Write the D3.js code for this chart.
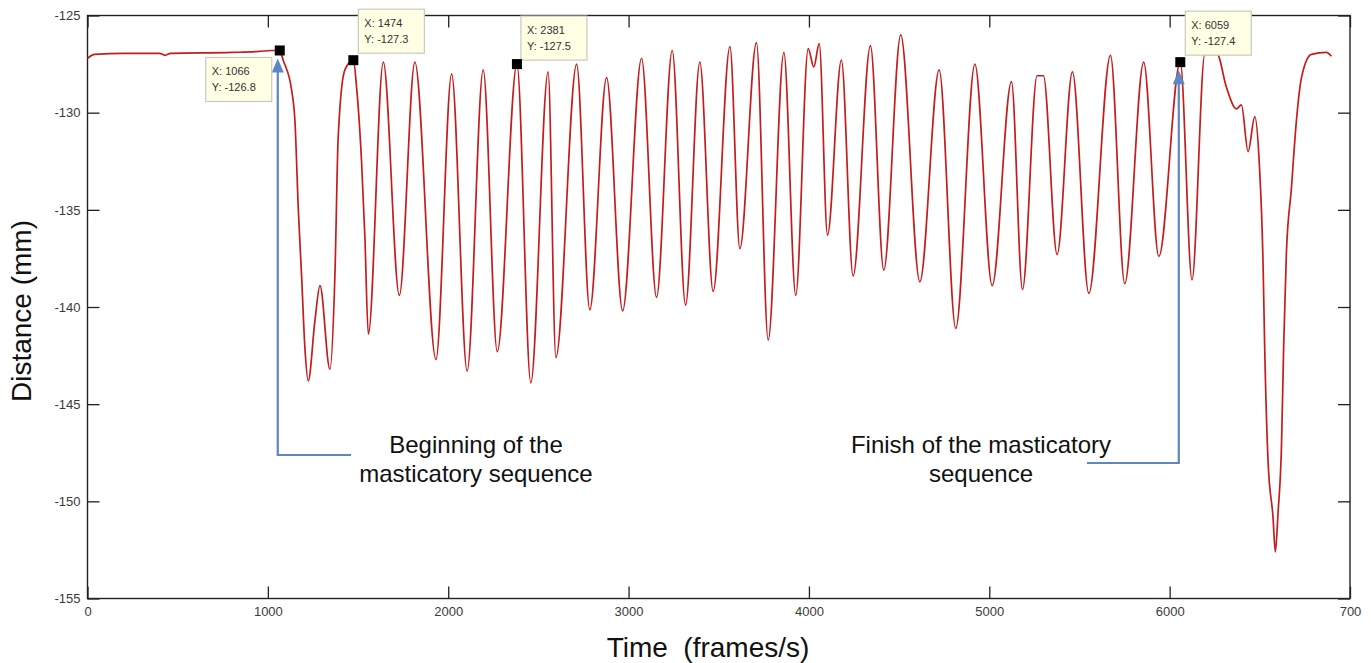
<!DOCTYPE html>
<html>
<head>
<meta charset="utf-8">
<script src="https://cdn.jsdelivr.net/npm/d3@7"></script>
<style>
body { margin: 0; background: #fff; }
text { font-family: "Liberation Sans", Arial, sans-serif; }
</style>
</head>
<body>
<div id="chart"></div>
<script>
// jaw distance trace
const time = [0, 40, 200, 400, 430, 460, 800, 950, 1020, 1066,
  1085, 1132, 1150, 1169, 1187, 1206, 1224, 1261, 1289, 1344,
  1372, 1390, 1427, 1474, 1492, 1520, 1538, 1557,
  1640, 1729, 1815, 1932, 2019, 2105, 2194, 2272, 2381, 2458,
  2554, 2597, 2712, 2785, 2878, 2967, 3072, 3155, 3242, 3316,
  3395, 3469, 3562, 3617, 3709, 3774, 3861, 3927, 3996, 4027,
  4057, 4103, 4180, 4245, 4341, 4415, 4509, 4615, 4722, 4814,
  4920, 5016, 5123, 5184, 5265, 5300, 5376, 5461, 5552, 5672,
  5751, 5856, 5940, 6059, 6124, 6195, 6263, 6315, 6370, 6398,
  6435, 6472, 6497, 6518, 6527, 6546, 6573, 6586, 6601, 6620,
  6632, 6647, 6675, 6703, 6731, 6786, 6869, 6897]
const distance = [-127.2, -127.0, -126.95, -126.95, -127.05, -126.95, -126.9, -126.85, -126.8, -126.8,
  -127.3, -128.85, -130.4, -135.0, -138.4, -142.2, -143.8, -140.7, -138.9, -143.2,
  -138.3, -131.25, -127.8, -127.3, -128.7, -132.6, -136.4, -141.4,
  -127.4, -139.4, -127.4, -142.7, -128.0, -143.3, -127.8, -142.3, -127.5, -143.9,
  -127.9, -142.6, -127.5, -140.15, -128.2, -140.2, -127.2, -139.5, -126.8, -139.9,
  -127.4, -139.2, -126.6, -137.0, -126.4, -141.7, -126.9, -139.4, -126.7, -127.65,
  -126.45, -136.3, -127.3, -138.4, -126.55, -138.1, -126.0, -138.7, -127.8, -141.1,
  -127.5, -138.9, -128.4, -139.1, -128.1, -128.1, -137.3, -127.9, -139.3, -127.05,
  -138.8, -127.4, -137.4, -127.4, -138.6, -127.0, -127.0, -128.7, -129.8, -129.6,
  -132.0, -130.2, -132.6, -137.8, -142.1, -148.0, -150.8, -152.6, -150.6, -147.2,
  -142.1, -137.3, -133.9, -130.4, -128.2, -127.0, -126.9, -127.1]

const xTicks = [0, 1000, 2000, 3000, 4000, 5000, 6000, 7000]
const xTickLabels = ['0', '1000', '2000', '3000', '4000', '5000', '6000', '700']
const yTicks = [-125, -130, -135, -140, -145, -150, -155]

const tipTime = [1066, 1474, 2381, 6059]
const tipDistance = [-126.8, -127.3, -127.5, -127.4]
const tipLabelX = ['1066', '1474', '2381', '6059']
const tipLabelY = ['-126.8', '-127.3', '-127.5', '-127.4']

const noteLines = [['Beginning of the', 'masticatory sequence'], ['Finish of the masticatory', 'sequence']]

var width = 1371
var height = 663

var svg = d3.select('#chart')
  .append('svg')
  .attr('width', width)
  .attr('height', height)

var x = d3.scaleLinear().domain([0, 7000]).range([87.5, 1350])
var y = d3.scaleLinear().domain([-155, -125]).range([598.5, 15.5])

// axes, ticks pointing inwards like matlab
var xAxis = svg.append('g')
  .attr('transform', 'translate(0,' + y(-155) + ')')
  .call(d3.axisBottom(x).tickValues(xTicks)
    .tickFormat((d, i) => xTickLabels[i])
    .tickSizeInner(-12).tickSizeOuter(0).tickPadding(8))
var xTop = svg.append('g')
  .attr('transform', 'translate(0,' + y(-125) + ')')
  .call(d3.axisTop(x).tickValues(xTicks).tickFormat('')
    .tickSizeInner(-12).tickSizeOuter(0))
var yAxis = svg.append('g')
  .attr('transform', 'translate(' + x(0) + ',0)')
  .call(d3.axisLeft(y).tickValues(yTicks).tickFormat(d => String(d))
    .tickSizeInner(-12).tickSizeOuter(0).tickPadding(7))
var yRight = svg.append('g')
  .attr('transform', 'translate(' + x(7000) + ',0)')
  .call(d3.axisRight(y).tickValues(yTicks).tickFormat('')
    .tickSizeInner(-12).tickSizeOuter(0))

svg.selectAll('.domain').remove()
svg.selectAll('.tick line').attr('stroke', '#222').attr('stroke-width', 1.3)
svg.selectAll('.tick text')
  .style('font-size', '13px')
  .style('fill', '#3a3a3a')
  .style('font-family', '"Liberation Sans", Arial, sans-serif')

svg.append('rect')
  .attr('x', x(0))
  .attr('y', y(-125))
  .attr('width', x(7000) - x(0))
  .attr('height', y(-155) - y(-125))
  .attr('fill', 'none')
  .attr('stroke', '#222')
  .attr('stroke-width', 1.4)

// the trace
var pts = time.map((t, i) => [t, distance[i]])
svg.append('path')
  .datum(pts)
  .attr('d', d3.line()
    .x(d => x(d[0]))
    .y(d => y(d[1]))
    .curve(d3.curveMonotoneX))
  .attr('fill', 'none')
  .attr('stroke', '#c41d1d')
  .attr('stroke-width', 1.7)

// blue arrows to the first and last data tips
var blue = '#5b87c4'
var arrowEnds = [{ t: 0, hx: 351, hy: 455, dx: -2 }, { t: 3, hx: 1087, hy: 463, dx: -1.5 }]
arrowEnds.forEach(a => {
  var ax = x(tipTime[a.t]) + a.dx
  var tipY = y(tipDistance[a.t]) + 8
  svg.append('path')
    .attr('d', 'M' + a.hx + ',' + a.hy + 'L' + ax + ',' + a.hy + 'L' + ax + ',' + (tipY + 12))
    .attr('fill', 'none')
    .attr('stroke', blue)
    .attr('stroke-width', 2.2)
  svg.append('path')
    .attr('d', 'M' + ax + ',' + tipY + 'L' + (ax - 6) + ',' + (tipY + 14) + 'L' + (ax + 6) + ',' + (tipY + 14) + 'Z')
    .attr('fill', blue)
})

// data tip boxes
var boxOffset = [[-74, 7], [5, -51], [4, -48], [5, -51]]
tipTime.forEach((t, i) => {
  var px = x(t)
  var py = y(tipDistance[i])
  var bx = px + boxOffset[i][0]
  var by = py + boxOffset[i][1]
  svg.append('rect')
    .attr('x', bx).attr('y', by)
    .attr('width', 66).attr('height', 44)
    .attr('fill', '#ffffe3')
    .attr('stroke', '#c9c9c0')
    .attr('stroke-width', 1.2)
  svg.append('text')
    .attr('x', bx + 6).attr('y', by + 18)
    .style('font-size', '11px').style('fill', '#333')
    .text('X: ' + tipLabelX[i])
  svg.append('text')
    .attr('x', bx + 6).attr('y', by + 34)
    .style('font-size', '11px').style('fill', '#333')
    .text('Y: ' + tipLabelY[i])
  svg.append('rect')
    .attr('x', px - 5).attr('y', py - 5)
    .attr('width', 10).attr('height', 10)
    .attr('fill', '#000')
})

// annotation text
var noteX = [476, 981]
noteLines.forEach((lines, i) => {
  lines.forEach((s, j) => {
    svg.append('text')
      .attr('x', noteX[i])
      .attr('y', 453 + j * 29)
      .attr('text-anchor', 'middle')
      .style('font-size', '24px')
      .style('fill', '#111')
      .text(s)
  })
})

// axis titles
svg.append('text')
  .attr('x', 708)
  .attr('y', 657)
  .attr('text-anchor', 'middle')
  .style('font-size', '28px')
  .style('fill', '#111')
  .style('white-space', 'pre')
  .text('Time  (frames/s)')

svg.append('text')
  .attr('transform', 'translate(31,311) rotate(-90)')
  .attr('text-anchor', 'middle')
  .style('font-size', '28px')
  .style('fill', '#111')
  .text('Distance (mm)')
</script>
</body>
</html>
